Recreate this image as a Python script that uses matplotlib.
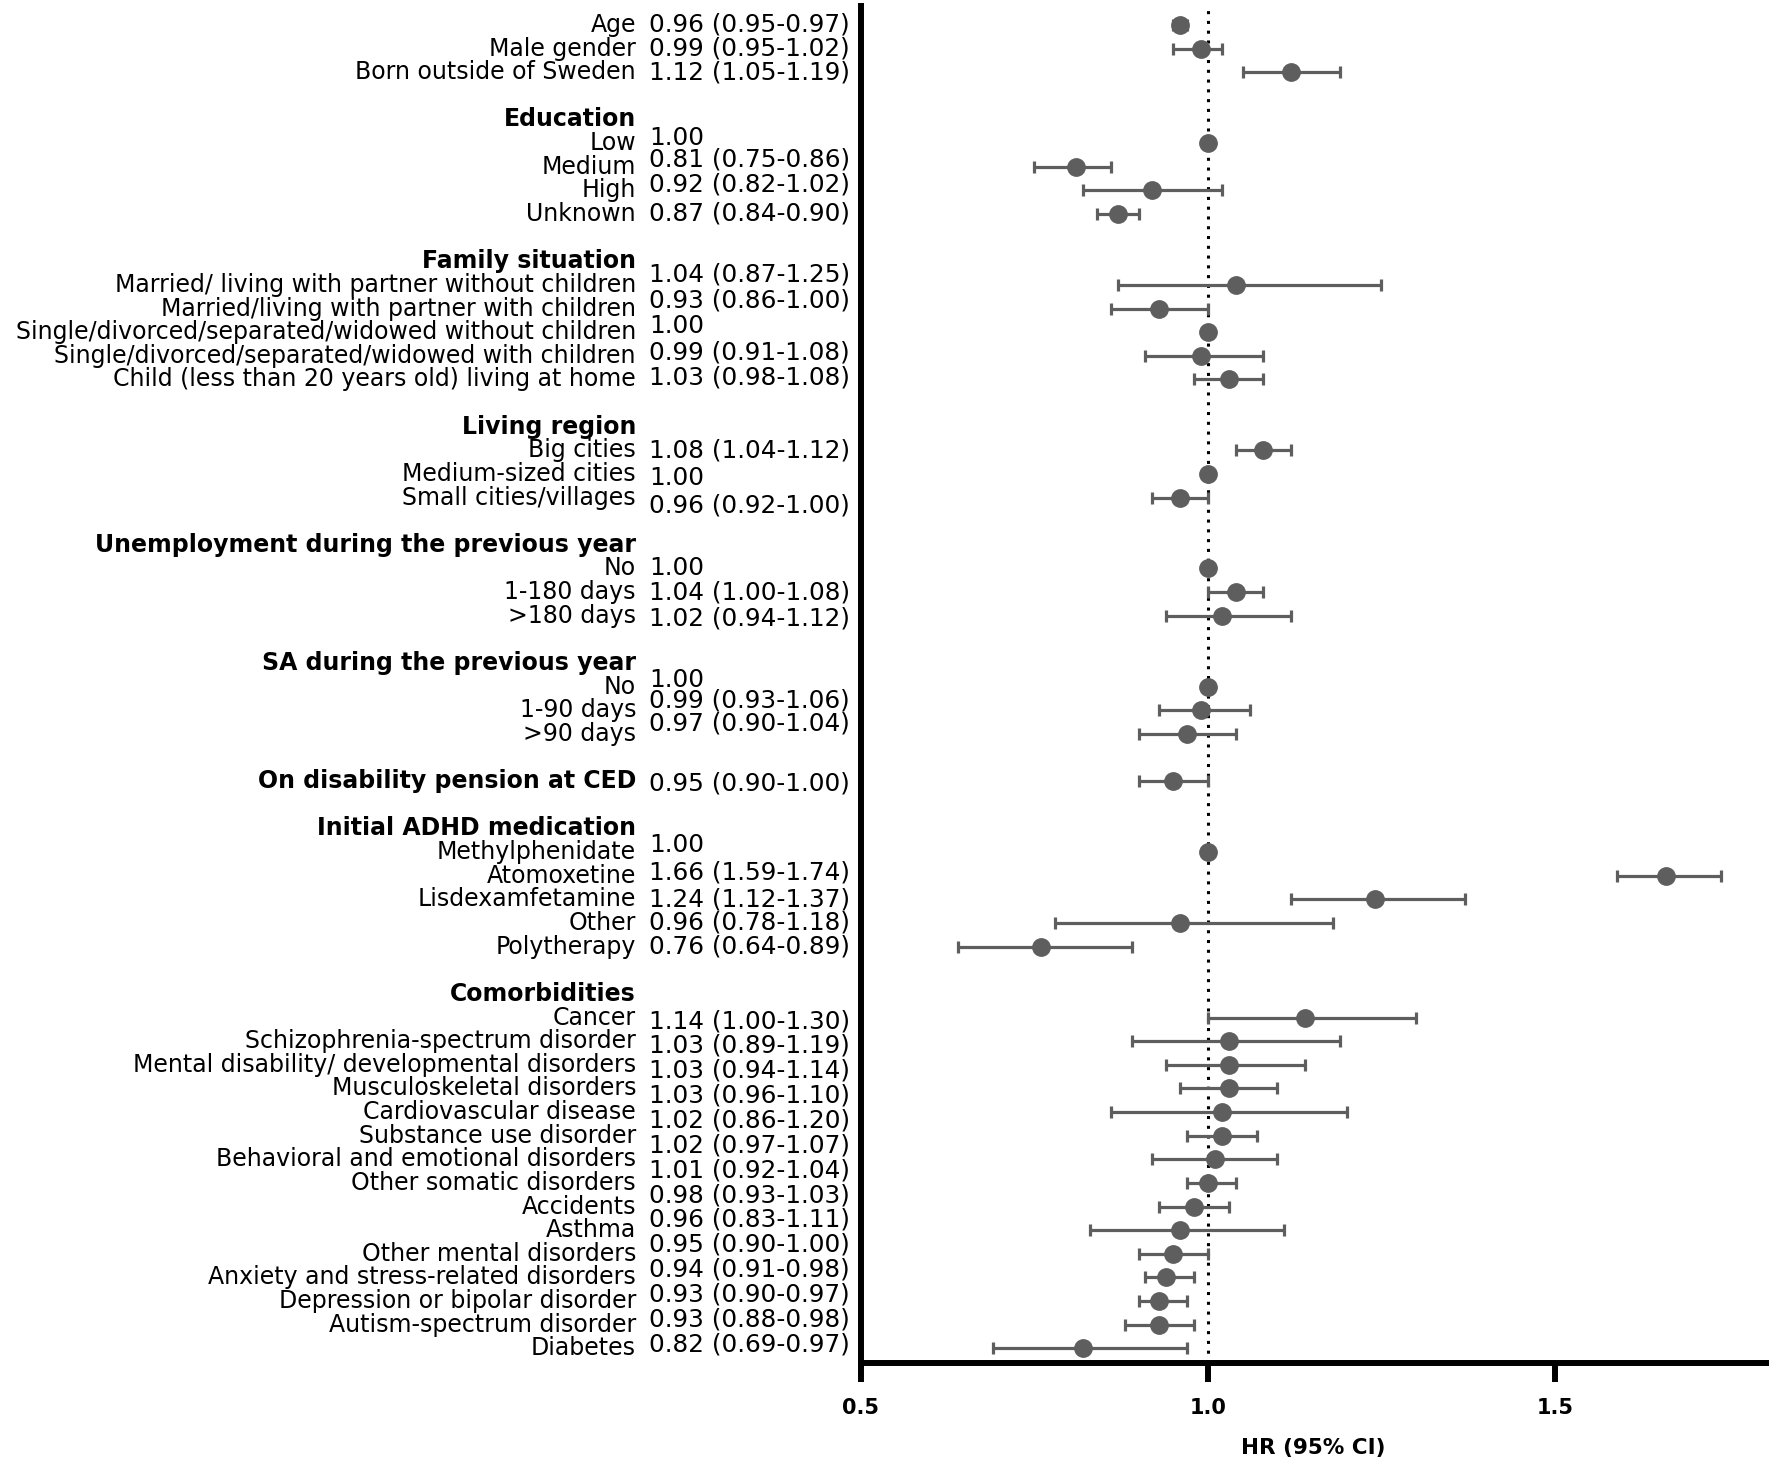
import numpy as np
import matplotlib
matplotlib.use("Agg")
import matplotlib.pyplot as plt
import matplotlib.transforms as mtransforms

plt.rcParams['font.family'] = ['DejaVu Sans']

nan = np.nan

# 行标签（自上而下，''为空行）
labels = [
    "Age", "Male gender", "Born outside of Sweden", "",
    "Education", "Low", "Medium", "High", "Unknown", "",
    "Family situation",
    "Married/ living with partner without children",
    "Married/living with partner with children",
    "Single/divorced/separated/widowed without children",
    "Single/divorced/separated/widowed with children",
    "Child (less than 20 years old) living at home", "",
    "Living region", "Big cities", "Medium-sized cities", "Small cities/villages", "",
    "Unemployment during the previous year", "No", "1-180 days", ">180 days", "",
    "SA during the previous year", "No", "1-90 days", ">90 days", "",
    "On disability pension at CED", "",
    "Initial ADHD medication", "Methylphenidate", "Atomoxetine", "Lisdexamfetamine",
    "Other", "Polytherapy", "",
    "Comorbidities", "Cancer", "Schizophrenia-spectrum disorder",
    "Mental disability/ developmental disorders", "Musculoskeletal disorders",
    "Cardiovascular disease", "Substance use disorder",
    "Behavioral and emotional disorders", "Other somatic disorders", "Accidents",
    "Asthma", "Other mental disorders", "Anxiety and stress-related disorders",
    "Depression or bipolar disorder", "Autism-spectrum disorder", "Diabetes",
]

headers = [
    "Education", "Family situation", "Living region",
    "Unemployment during the previous year", "SA during the previous year",
    "On disability pension at CED", "Initial ADHD medication", "Comorbidities",
]

hr = [0.96, 0.99, 1.12, nan,
      nan, 1.00, 0.81, 0.92, 0.87, nan,
      nan, 1.04, 0.93, 1.00, 0.99, 1.03, nan,
      nan, 1.08, 1.00, 0.96, nan,
      nan, 1.00, 1.04, 1.02, nan,
      nan, 1.00, 0.99, 0.97, nan,
      0.95, nan,
      nan, 1.00, 1.66, 1.24, 0.96, 0.76, nan,
      nan, 1.14, 1.03, 1.03, 1.03, 1.02, 1.02, 1.01, 1.00, 0.98, 0.96,
      0.95, 0.94, 0.93, 0.93, 0.82]

ci_low = [0.95, 0.95, 1.05, nan,
          nan, nan, 0.75, 0.82, 0.84, nan,
          nan, 0.87, 0.86, nan, 0.91, 0.98, nan,
          nan, 1.04, nan, 0.92, nan,
          nan, nan, 1.00, 0.94, nan,
          nan, nan, 0.93, 0.90, nan,
          0.90, nan,
          nan, nan, 1.59, 1.12, 0.78, 0.64, nan,
          nan, 1.00, 0.89, 0.94, 0.96, 0.86, 0.97, 0.92, 0.97, 0.93, 0.83,
          0.90, 0.91, 0.90, 0.88, 0.69]

ci_high = [0.97, 1.02, 1.19, nan,
           nan, nan, 0.86, 1.02, 0.90, nan,
           nan, 1.25, 1.00, nan, 1.08, 1.08, nan,
           nan, 1.12, nan, 1.00, nan,
           nan, nan, 1.08, 1.12, nan,
           nan, nan, 1.06, 1.04, nan,
           1.00, nan,
           nan, nan, 1.74, 1.37, 1.18, 0.89, nan,
           nan, 1.30, 1.19, 1.14, 1.10, 1.20, 1.07, 1.10, 1.04, 1.03, 1.11,
           1.00, 0.98, 0.97, 0.98, 0.97]

# 右侧数值文本（前41行，逐行）
value_text = [
    "0.96 (0.95-0.97)", "0.99 (0.95-1.02)", "1.12 (1.05-1.19)", "",
    "", "1.00", "0.81 (0.75-0.86)", "0.92 (0.82-1.02)", "0.87 (0.84-0.90)", "",
    "", "1.04 (0.87-1.25)", "0.93 (0.86-1.00)", "1.00", "0.99 (0.91-1.08)",
    "1.03 (0.98-1.08)", "",
    "", "1.08 (1.04-1.12)", "1.00", "0.96 (0.92-1.00)", "",
    "", "1.00", "1.04 (1.00-1.08)", "1.02 (0.94-1.12)", "",
    "", "1.00", "0.99 (0.93-1.06)", "0.97 (0.90-1.04)", "",
    "0.95 (0.90-1.00)", "",
    "", "1.00", "1.66 (1.59-1.74)", "1.24 (1.12-1.37)", "0.96 (0.78-1.18)",
    "0.76 (0.64-0.89)", "",
]

# 合并症部分的数值文本（图中共14行）
comorb_text = [
    "1.14 (1.00-1.30)", "1.03 (0.89-1.19)", "1.03 (0.94-1.14)", "1.03 (0.96-1.10)",
    "1.02 (0.86-1.20)", "1.02 (0.97-1.07)", "1.01 (0.92-1.04)", "0.98 (0.93-1.03)",
    "0.96 (0.83-1.11)", "0.95 (0.90-1.00)", "0.94 (0.91-0.98)", "0.93 (0.90-0.97)",
    "0.93 (0.88-0.98)", "0.82 (0.69-0.97)",
]

# 数值文本相对行位置的微调（单位：行）
value_nudge = {5: -0.22, 6: -0.32, 7: -0.24, 11: -0.43, 12: -0.33, 13: -0.24,
               14: -0.14, 15: -0.1, 19: 0.19, 20: 0.33, 25: 0.1, 28: -0.3,
               29: -0.4, 30: -0.43, 32: 0.1, 35: -0.29, 36: -0.14}

grey = '#5e5e5e'
fs_label = 17
fs_value = 17.8

fig = plt.figure(figsize=(17.73, 14.68), dpi=100)
ax = fig.add_axes([0.4856, 0.0715, 0.5104, 0.9244])

y = np.arange(len(labels))
hr = np.array(hr)
lo = np.array(ci_low)
hi = np.array(ci_high)

# 误差线 + 点
has_ci = ~np.isnan(lo)
ax.errorbar(hr[has_ci], y[has_ci], xerr=[hr[has_ci] - lo[has_ci], hi[has_ci] - hr[has_ci]],
            fmt='none', ecolor=grey, elinewidth=2.3, capsize=4.5, capthick=2.3, zorder=2)
ax.plot(hr, y, 'o', color=grey, markersize=12.5, zorder=3, linestyle='none')

# 参考线 HR=1
ax.axvline(1.0, color='black', linestyle=(0, (1, 2.2)), linewidth=2.2, zorder=1)

ax.set_xlim(0.5, 1.804)
ax.set_ylim(56.62, -0.8)
ax.set_xticks([0.5, 1.0, 1.5])
ax.set_xticklabels(['0.5', '1.0', '1.5'], fontweight='bold', fontsize=15)
ax.set_yticks([])
ax.tick_params(axis='x', direction='out', length=13.5, width=4.3, pad=12)
for s in ['top', 'right']:
    ax.spines[s].set_visible(False)
for s in ['left', 'bottom']:
    ax.spines[s].set_linewidth(4.3)
ax.set_xlabel('HR (95% CI)', fontweight='bold', fontsize=15.5, labelpad=14)

# 左侧文字：x用figure坐标，y用数据坐标
trans = mtransforms.blended_transform_factory(fig.transFigure, ax.transData)
label_x = 636 / 1773
value_x = 649 / 1773

for i, lab in enumerate(labels):
    if not lab:
        continue
    bold = lab in headers
    ax.text(label_x, i, lab, transform=trans, ha='right', va='center',
            fontsize=fs_label, fontweight='bold' if bold else 'normal')

for i, txt in enumerate(value_text):
    if txt:
        ax.text(value_x, i + value_nudge.get(i, 0), txt, transform=trans,
                ha='left', va='center', fontsize=fs_value)

comorb_y = np.linspace(42.15, 55.82, len(comorb_text))
for yy, txt in zip(comorb_y, comorb_text):
    ax.text(value_x, yy, txt, transform=trans, ha='left', va='center', fontsize=fs_value)

plt.savefig('out.png', dpi=100)
plt.close()
